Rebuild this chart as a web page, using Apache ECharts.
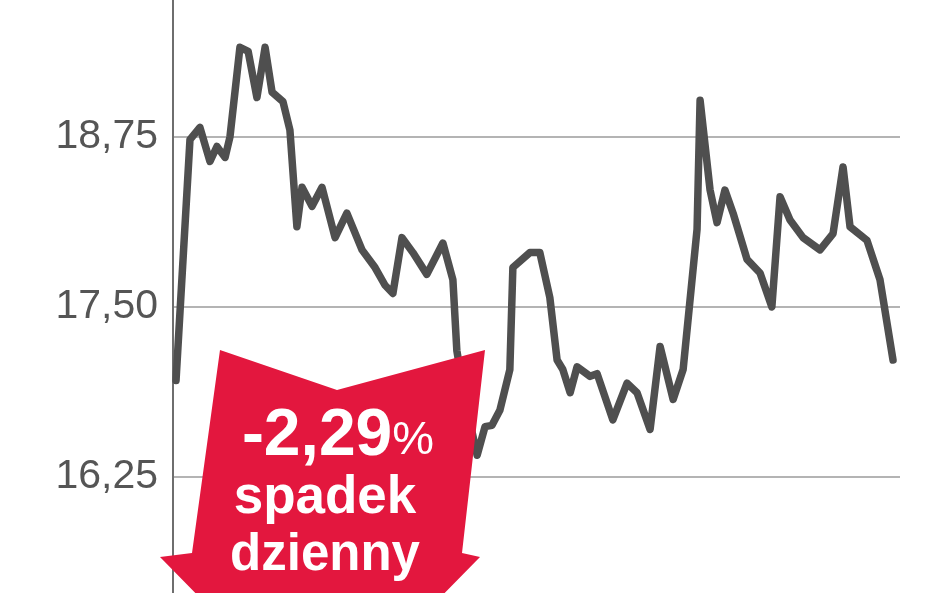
<!DOCTYPE html>
<html>
<head>
<meta charset="utf-8">
<script src="https://cdn.jsdelivr.net/npm/echarts@6/dist/echarts.min.js"></script>
<style>
  html, body { margin: 0; padding: 0; background: #ffffff; }
  #chart { width: 948px; height: 593px; }
</style>
</head>
<body>
<div id="chart"></div>
<script>
// Session positions (trading-day index along the period) and closing prices
const sessions = [1.0, 5.6, 8.9, 12.2, 14.5, 17.2, 18.8, 22.1, 24.8, 27.7, 30.4, 32.7, 36.3, 38.6,
  40.9, 42.6, 45.9, 49.2, 53.5, 57.4, 62.4, 66.7, 70.0, 72.6, 75.6, 79.2, 83.8, 89.1, 92.4, 93.7,
  96.4, 100.4, 103.0, 105.3, 107.9, 111.2, 112.2, 117.8, 121.1, 124.4, 126.8, 128.7, 131.1, 133.4,
  137.7, 140.0, 145.2, 149.9, 153.2, 157.5, 160.8, 165.1, 168.4, 173.0, 174.0, 177.3, 179.6, 182.2,
  184.9, 189.5, 193.8, 197.7, 200.4, 203.7, 208.0, 213.6, 217.9, 221.2, 223.5, 229.1, 233.4, 237.7];
const prices = [16.96, 18.73, 18.82, 18.57, 18.68, 18.60, 18.75, 19.41, 19.38, 19.04, 19.41, 19.08, 19.01, 18.80,
  18.09, 18.38, 18.24, 18.38, 18.01, 18.19, 17.92, 17.79, 17.66, 17.60, 18.01, 17.90, 17.74, 17.97, 17.70, 17.18,
  16.82, 16.41, 16.62, 16.63, 16.74, 17.04, 17.79, 17.90, 17.90, 17.57, 17.11, 17.04, 16.87, 17.06,
  16.99, 17.01, 16.67, 16.94, 16.87, 16.60, 17.21, 16.82, 17.04, 18.07, 19.02, 18.36, 18.12, 18.36,
  18.19, 17.85, 17.75, 17.50, 18.31, 18.14, 18.01, 17.92, 18.04, 18.53, 18.09, 17.99, 17.70, 17.11];
const yTicks = [15, 16.25, 17.5, 18.75, 20];
const badgeLines = ['-2,29', '%', 'spadek', 'dzienny'];

const chart = echarts.init(document.getElementById('chart'), null, { renderer: 'canvas' });

const option = {
  backgroundColor: '#ffffff',
  animation: false,
  grid: { left: 173, right: 48, top: -33, height: 680, containLabel: false, outerBoundsMode: 'none' },
  xAxis: {
    type: 'value', min: 0, max: 240,
    show: false
  },
  yAxis: {
    type: 'value',
    min: yTicks[0], max: yTicks[yTicks.length - 1], interval: 1.25,
    axisLine: { show: true, lineStyle: { color: '#6e6e6e', width: 2 } },
    axisTick: { show: false },
    splitLine: { show: true, lineStyle: { color: '#b4b4b4', width: 2 } },
    axisLabel: {
      margin: 15,
      color: '#555555',
      fontFamily: 'Liberation Sans, Arial, sans-serif',
      fontSize: 41,
      formatter: v => v.toFixed(2).replace('.', ',')
    }
  },
  series: [{
    type: 'line',
    data: sessions.map((d, i) => [d, prices[i]]),
    showSymbol: false,
    smooth: false,
    lineStyle: { color: '#4f4f4f', width: 7.5, join: 'round', cap: 'round' },
    z: 3
  }],
  graphic: [
    {
      type: 'polygon', z: 100,
      shape: { points: [[220, 350], [337, 390], [485, 350], [462, 553], [480, 557], [320, 720], [160, 557], [192, 553]] },
      style: { fill: '#e3173e' }
    },
    {
      type: 'text', z: 101, x: 338, y: 437,
      style: {
        text: '{a|' + badgeLines[0] + '}{b|' + badgeLines[1] + '}',
        textAlign: 'center', textVerticalAlign: 'middle',
        rich: {
          a: { fontFamily: 'Liberation Sans, Arial, sans-serif', fontSize: 66, fontWeight: 'bold', fill: '#ffffff', color: '#ffffff' },
          b: { fontFamily: 'Liberation Sans, Arial, sans-serif', fontSize: 47, fontWeight: 'normal', fill: '#ffffff', color: '#ffffff', padding: [8, 0, 0, 0] }
        }
      }
    },
    {
      type: 'text', z: 101, x: 325, y: 498,
      style: {
        text: badgeLines[2], fill: '#ffffff',
        font: 'bold 53px "Liberation Sans", Arial, sans-serif',
        textAlign: 'center', textVerticalAlign: 'middle'
      }
    },
    {
      type: 'text', z: 101, x: 325, y: 556,
      style: {
        text: badgeLines[3], fill: '#ffffff',
        font: 'bold 51px "Liberation Sans", Arial, sans-serif',
        textAlign: 'center', textVerticalAlign: 'middle'
      }
    }
  ]
};

chart.setOption(option);
</script>
</body>
</html>
